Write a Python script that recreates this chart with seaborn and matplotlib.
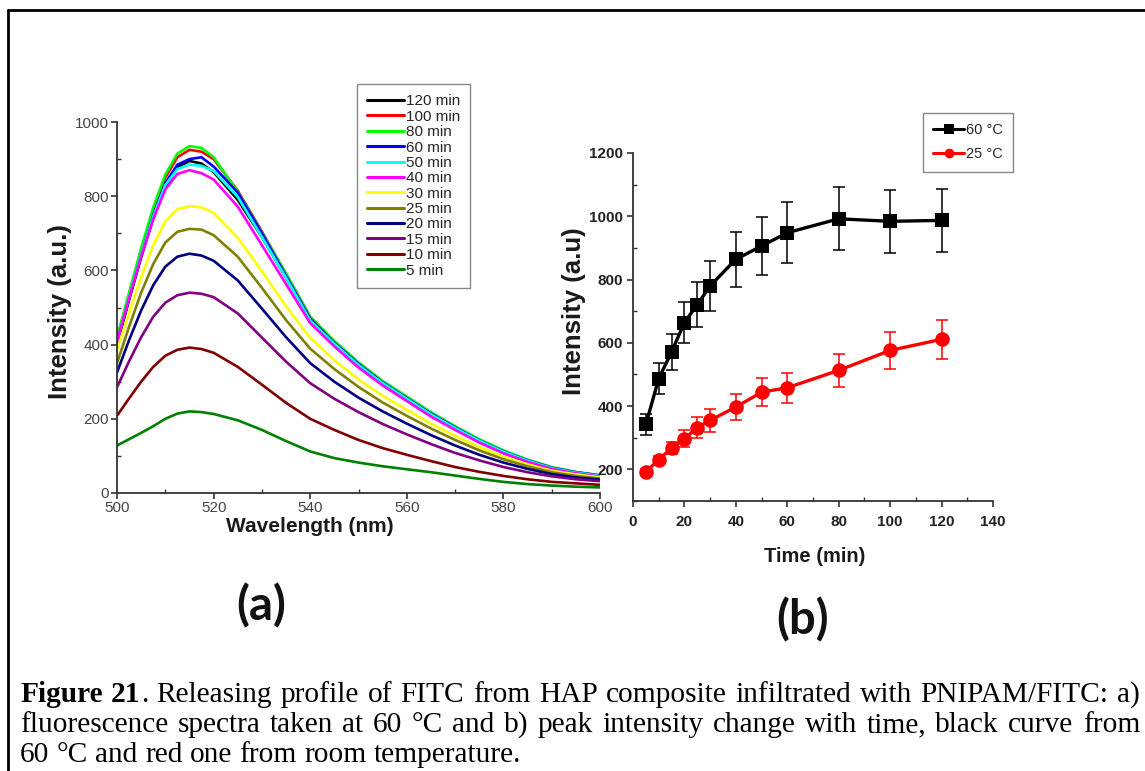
import numpy as np
import pandas as pd
import matplotlib
matplotlib.use("Agg")
import matplotlib.pyplot as plt
from matplotlib.lines import Line2D
from matplotlib.ticker import MultipleLocator
import seaborn as sns

# ---------------- data: panel (a) fluorescence spectra ----------------
wavelength = [500, 502.5, 505, 507.5, 510, 512.5, 515, 517.5, 520, 525, 530, 535, 540, 545,
              550, 555, 560, 565, 570, 575, 580, 585, 590, 595, 600]
series_labels = ["120 min", "100 min", "80 min", "60 min", "50 min", "40 min",
                 "30 min", "25 min", "20 min", "15 min", "10 min", "5 min"]
s120 = [400, 520, 635, 740, 825, 878, 895, 888, 865, 790, 690, 580, 470, 400, 342, 292, 250, 209, 172, 138, 108, 85, 66, 54, 45]
s100 = [415, 535, 650, 760, 850, 905, 925, 920, 900, 815, 705, 590, 475, 407, 348, 298, 256, 214, 177, 142, 112, 88, 68, 56, 47]
s80 = [420, 540, 660, 770, 858, 915, 935, 930, 905, 812, 702, 592, 475, 410, 352, 302, 260, 218, 180, 145, 115, 90, 70, 57, 48]
s60 = [405, 525, 640, 748, 835, 885, 900, 905, 880, 810, 700, 585, 470, 405, 348, 298, 256, 214, 177, 142, 112, 88, 68, 56, 47]
s50 = [410, 528, 642, 745, 830, 873, 885, 882, 868, 798, 690, 580, 465, 402, 345, 296, 254, 212, 175, 141, 111, 87, 67, 55, 46]
s40 = [410, 525, 638, 738, 818, 860, 870, 862, 845, 772, 668, 563, 458, 395, 338, 290, 248, 206, 170, 136, 107, 84, 65, 53, 44]
s30 = [385, 485, 582, 668, 732, 765, 773, 770, 755, 688, 598, 503, 418, 358, 306, 262, 224, 187, 154, 124, 98, 77, 60, 50, 42]
s25 = [350, 448, 540, 617, 675, 704, 712, 710, 695, 637, 553, 466, 389, 334, 286, 244, 208, 174, 143, 115, 91, 72, 56, 46, 39]
s20 = [325, 412, 492, 560, 610, 637, 645, 640, 626, 573, 497, 420, 350, 300, 257, 220, 187, 156, 128, 103, 82, 65, 51, 42, 36]
s15 = [285, 355, 420, 475, 513, 533, 540, 537, 528, 484, 419, 354, 296, 254, 218, 186, 158, 132, 108, 88, 70, 56, 45, 37, 32]
s10 = [208, 255, 300, 340, 370, 386, 392, 388, 378, 340, 292, 243, 200, 170, 143, 121, 103, 86, 70, 57, 46, 37, 30, 26, 22]
s5 = [128, 145, 162, 180, 200, 214, 220, 218, 213, 196, 170, 140, 112, 94, 82, 72, 64, 56, 47, 38, 30, 24, 20, 17, 15]
spectra = [s120, s100, s80, s60, s50, s40, s30, s25, s20, s15, s10, s5]
series_colors = ["#000000", "#ff0000", "#00ff00", "#0000ff", "#00ffff", "#ff00ff",
                 "#ffff00", "#808000", "#000080", "#800080", "#800000", "#008000"]

# ---------------- data: panel (b) peak intensity vs time ----------------
time_min = [5, 10, 15, 20, 25, 30, 40, 50, 60, 80, 100, 120]
temp_labels = ["60 \u00b0C", "25 \u00b0C"]
int_60 = [342, 487, 571, 664, 721, 780, 864, 906, 948, 992, 984, 987]
err_60 = [33, 48, 57, 66, 72, 79, 87, 91, 97, 99, 100, 99]
int_25 = [192, 231, 267, 297, 332, 355, 397, 444, 458, 513, 576, 611]
err_25 = [10, 12, 18, 26, 33, 36, 40, 45, 47, 52, 58, 62]
temp_colors = ["#000000", "#ff0000"]

caption_lines = [
    "Figure 21. Releasing profile of FITC from HAP composite infiltrated with PNIPAM/FITC: a)",
    "fluorescence spectra taken at 60 \u00b0C and b) peak intensity change with time, black curve from",
    "60 \u00b0C and red one from room temperature.",
]

# ---------------- build frames ----------------
rows = []
for lab, vals in zip(series_labels, spectra):
    assert len(vals) == len(wavelength)
    for w, v in zip(wavelength, vals):
        rows.append((w, v, lab))
df_a = pd.DataFrame(rows, columns=["wavelength", "intensity", "series"])

rows = []
for lab, vals in zip(temp_labels, [int_60, int_25]):
    for t, v in zip(time_min, vals):
        rows.append((t, v, lab))
df_b = pd.DataFrame(rows, columns=["time", "intensity", "temp"])

# ---------------- figure ----------------
sns.set_theme(style="white")
plt.rcParams["font.family"] = ["Liberation Sans", "DejaVu Sans"]

W, H = 1145, 771
fig = plt.figure(figsize=(W / 100, H / 100), dpi=100)
fig.patch.set_facecolor("white")

def fx(px):
    return px / W

def fy(py):
    return 1 - py / H

ax1 = fig.add_axes([fx(117), fy(493), fx(600) - fx(117), fy(122) - fy(493)])
ax2 = fig.add_axes([fx(633), fy(501), fx(993) - fx(633), fy(153) - fy(501)])

# panel (a)
pal_a = dict(zip(series_labels, series_colors))
sns.lineplot(data=df_a, x="wavelength", y="intensity", hue="series",
             hue_order=series_labels, palette=pal_a, linewidth=1.9,
             legend=False, ax=ax1)
ax1.set_xlim(500, 600)
ax1.set_ylim(0, 1000)
ax1.xaxis.set_major_locator(MultipleLocator(20))
ax1.xaxis.set_minor_locator(MultipleLocator(10))
ax1.yaxis.set_major_locator(MultipleLocator(200))
ax1.yaxis.set_minor_locator(MultipleLocator(100))
ax1.set_xlabel("Wavelength (nm)", fontsize=15, fontweight="bold", color="#1a1a1a", va="center")
ax1.set_ylabel("Intensity (a.u.)", fontsize=18.5, fontweight="bold", color="#1a1a1a", va="center")
ax1.xaxis.set_label_coords((310 - 117) / 483, (493 - 526) / 371)
ax1.yaxis.set_label_coords((60 - 117) / 483, 0.49)
ax1.tick_params(axis="both", which="major", direction="out", length=4, width=1.2,
                color="#333333", labelsize=11, labelcolor="#444444", pad=2,
                bottom=True, left=True)
ax1.tick_params(axis="both", which="minor", direction="in", length=3, width=1.0,
                color="#333333", bottom=True, left=True)

handles_a = [Line2D([], [], color=c, lw=2.2) for c in series_colors]
ax1.legend(handles_a, series_labels, loc="upper left",
           bbox_to_anchor=(fx(357), fy(84)), bbox_transform=fig.transFigure,
           fontsize=11, labelspacing=0.09, handlelength=2.4, handletextpad=0.1,
           borderpad=0.68, frameon=True, fancybox=False, framealpha=1,
           edgecolor="#888888", borderaxespad=0)
ax1.get_legend().get_frame().set_linewidth(1.0)

# panel (b)
for vals, errs, col in zip([int_60, int_25], [err_60, err_25], temp_colors):
    ax2.errorbar(time_min, vals, yerr=errs, fmt="none", ecolor=col,
                 elinewidth=1.1, capsize=4.5, capthick=1.1, zorder=1)
pal_b = dict(zip(temp_labels, temp_colors))
sns.lineplot(data=df_b, x="time", y="intensity", hue="temp", style="temp",
             hue_order=temp_labels, style_order=temp_labels, palette=pal_b,
             markers={temp_labels[0]: "s", temp_labels[1]: "o"}, dashes=False,
             linewidth=2.4, markersize=10.5, markeredgewidth=0, legend=False,
             ax=ax2, zorder=3)
ax2.set_xlim(0, 140)
ax2.set_ylim(100, 1200)
ax2.xaxis.set_major_locator(MultipleLocator(20))
ax2.xaxis.set_minor_locator(MultipleLocator(10))
ax2.set_yticks([200, 400, 600, 800, 1000, 1200])
ax2.yaxis.set_minor_locator(MultipleLocator(100))
ax2.set_xlabel("Time (min)", fontsize=14.5, fontweight="bold", color="#1a1a1a", va="center")
ax2.set_ylabel("Intensity (a.u)", fontsize=18.5, fontweight="bold", color="#1a1a1a", va="center")
ax2.xaxis.set_label_coords((815 - 633) / 360, (501 - 557) / 348)
ax2.yaxis.set_label_coords((574 - 633) / 360, 0.545)
ax2.tick_params(axis="both", which="major", direction="out", length=4, width=1.2,
                color="#333333", labelsize=11, labelcolor="#222222", pad=3,
                bottom=True, left=True)
ax2.tick_params(axis="x", which="major", pad=6)
ax2.tick_params(axis="both", which="minor", direction="in", length=3, width=1.0,
                color="#333333", bottom=True, left=True)
for lab in ax2.get_xticklabels() + ax2.get_yticklabels():
    lab.set_fontweight("bold")

handles_b = [Line2D([], [], color=temp_colors[0], lw=2.2, marker="s", markersize=7, mew=0),
             Line2D([], [], color=temp_colors[1], lw=2.2, marker="o", markersize=7, mew=0)]
ax2.legend(handles_b, temp_labels, loc="upper left",
           bbox_to_anchor=(fx(923), fy(113)), bbox_transform=fig.transFigure,
           fontsize=10.5, labelspacing=0.7, handlelength=2.1, handletextpad=0.15,
           borderpad=0.7, frameon=True, fancybox=False, framealpha=1,
           edgecolor="#888888", borderaxespad=0)
ax2.get_legend().get_frame().set_linewidth(1.0)

for ax in (ax1, ax2):
    ax.set_facecolor("white")
    for side in ("top", "right"):
        ax.spines[side].set_visible(False)
    for side in ("left", "bottom"):
        ax.spines[side].set_color("#333333")
        ax.spines[side].set_linewidth(1.3)

# panel tags
fig.text(fx(261), fy(606), "(a)", ha="center", va="center", fontsize=34,
         fontweight="bold", family=["Lato", "DejaVu Sans"], color="#111111")
fig.text(fx(803), fy(620), "(b)", ha="center", va="center", fontsize=34,
         fontweight="bold", family=["Lato", "DejaVu Sans"], color="#111111")

# border lines
fig.add_artist(Line2D([fx(8), 1.0], [fy(10), fy(10)], transform=fig.transFigure,
                      color="black", lw=2.0))
fig.add_artist(Line2D([fx(8), fx(8)], [fy(10), 0.0], transform=fig.transFigure,
                      color="black", lw=2.0))

# caption (justified like the source document)
renderer = fig.canvas.get_renderer()
serif = ["Liberation Serif", "DejaVu Serif"]

def tw(s, size, weight="normal"):
    t = fig.text(0, 0, s, fontsize=size, family=serif, fontweight=weight)
    w = t.get_window_extent(renderer).width
    t.remove()
    return w

def tokens(line, first):
    words = line.split(" ")
    out = []
    for i, wd in enumerate(words):
        if first and i == 0:
            out.append([(wd, "bold")])
        elif first and i == 1:
            out.append([(wd.rstrip("."), "bold"), (".", "normal")])
        else:
            out.append([(wd, "normal")])
    return out

def natural_width(toks, size):
    sp = tw("x x", size) - tw("xx", size)
    return sum(tw(s, size, w) for tk in toks for s, w in tk) + sp * (len(toks) - 1)

tok_lines = [tokens(l, i == 0) for i, l in enumerate(caption_lines)]
base = natural_width(tok_lines[0], 10)
cap_size = 10 * 1105 / base
x_left, x_right = 20, 1140
baselines = [702, 732, 762]
for i, toks in enumerate(tok_lines):
    widths = [[tw(s, cap_size, w) for s, w in tk] for tk in toks]
    word_w = [sum(ws) for ws in widths]
    if i < 2:
        gap = (x_right - x_left - sum(word_w)) / (len(toks) - 1)
    else:
        gap = tw("x x", cap_size) - tw("xx", cap_size)
    x = x_left
    for tk, ws in zip(toks, widths):
        xx = x
        for (s, w), sw in zip(tk, ws):
            fig.text(fx(xx), fy(baselines[i]), s, fontsize=cap_size, family=serif,
                     fontweight=w, ha="left", va="baseline", color="black")
            xx += sw
        x += sum(ws) + gap

fig.savefig("out.png", dpi=100, facecolor="white")
